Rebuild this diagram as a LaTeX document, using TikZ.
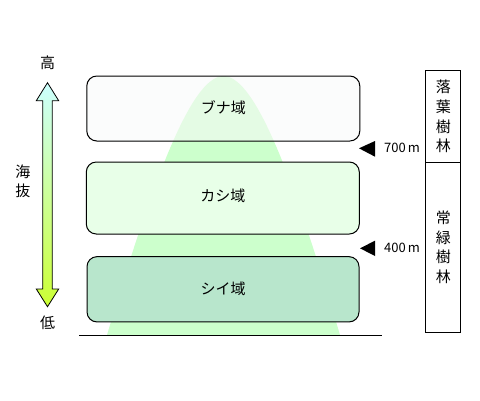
\documentclass[tikz,border=0pt]{standalone}
\usepackage{fontspec}
\setmainfont{Noto Sans CJK JP}
\definecolor{bellgreen}{RGB}{204,255,204}
\definecolor{topfill}{RGB}{248,249,249}
\definecolor{midfill}{RGB}{232,255,232}
\definecolor{lowfill}{RGB}{184,230,204}
\definecolor{arrtop}{RGB}{204,255,255}
\definecolor{arrmid}{RGB}{226,255,222}
\definecolor{arrbot}{RGB}{204,255,51}
\begin{document}
\begin{tikzpicture}[x=1pt,y=-1pt,
  zonebox/.style={draw=black,line width=1pt,rounded corners=10pt,minimum width=273pt,inner sep=0pt},
  jp/.style={font=\fontsize{15}{17}\selectfont,inner sep=0pt},
  colbox/.style={draw=black,line width=1pt,minimum width=35.3pt,inner sep=0pt,align=center,font=\fontsize{15}{19.6}\selectfont},
  alt/.style={font=\fontsize{13}{15}\selectfont,inner sep=0pt}]
\useasboundingbox (0,0) rectangle (480,400);
% bell
\fill[bellgreen] (107,335) .. controls (150,190) and (190,76) .. (223.5,76)
  .. controls (257,76) and (297,190) .. (340,335) -- cycle;
% zone boxes
\node[zonebox,minimum height=65pt,fill=topfill,fill opacity=0.55,text opacity=1] (buna) at (223.3,108.5) {\raisebox{2pt}{\fontsize{15}{17}\selectfont ブナ域}};
\node[zonebox,minimum height=72pt,fill=midfill] (kashi) at (222.8,198) {\raisebox{5pt}{\fontsize{15}{17}\selectfont カシ域}};
\node[zonebox,minimum height=65.3pt,fill=lowfill,minimum width=272pt] (shii) at (223,289.3) {\raisebox{2pt}{\fontsize{15}{17}\selectfont シイ域}};
% ground
\coordinate (gl) at (79,335);
\coordinate (gr) at (382,335);
\draw[line width=1pt] (gl) -- (gr);
% altitude arrow
\shade[draw=black,line width=0.8pt,top color=arrtop,middle color=arrmid,bottom color=arrbot]
  (47.5,82.7) -- (58.7,100.7) -- (52.3,100.7) -- (52.3,289) -- (58.7,289) -- (47.5,306.7)
  -- (36.3,289) -- (42.7,289) -- (42.7,100.7) -- (36.3,100.7) -- cycle;
\node[jp] (high) at (47.5,63) {高};
\node[jp] (low) at (47.5,322.5) {低};
\node[jp] (kai) at (23,172) {海};
\node[jp] (batsu) at (23,191) {抜};
% altitude markers
\fill (359,148.3) -- (375,141) -- (375,156.7) -- cycle;
\fill (360,248.3) -- (375,240.7) -- (375,256) -- cycle;
\node[alt] (m700) at (402,148.3) {700\,m};
\node[alt] (m400) at (402,248.3) {400\,m};
% forest type column
\node[colbox,minimum height=91.6pt] (rakuyo) at (443.3,116.5) {落\\葉\\樹\\林};
\node[colbox,minimum height=170pt] (joryoku) at (443.3,247.3) {常\\緑\\樹\\林};
\end{tikzpicture}
\end{document}
